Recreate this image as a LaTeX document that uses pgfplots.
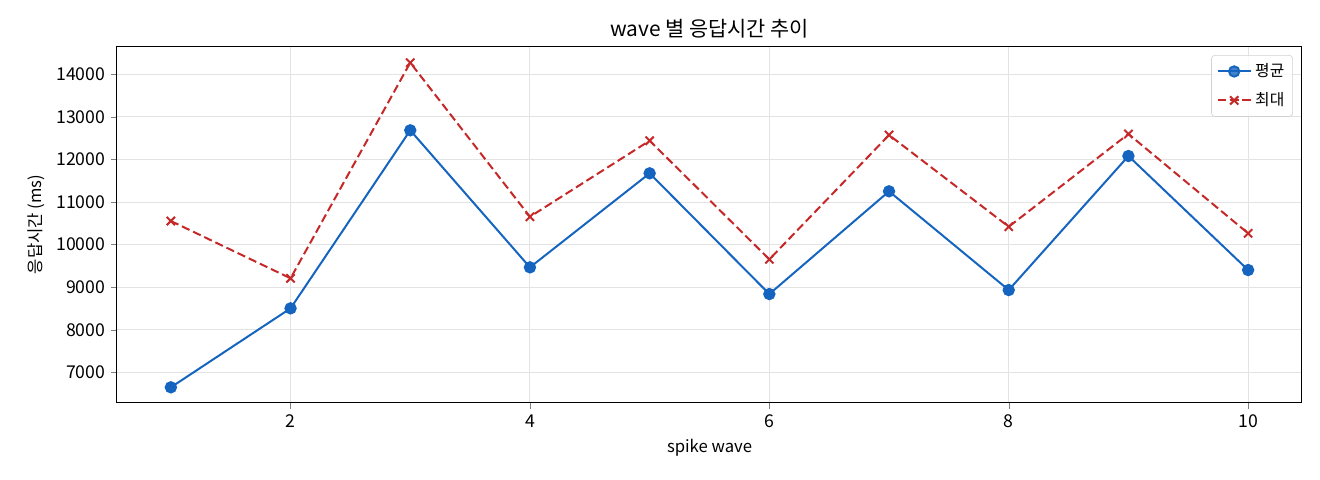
\documentclass[border=0pt]{standalone}
\usepackage{pgfplots}
\pgfplotsset{compat=1.18}
\usepackage{fontspec}
\setmainfont{Noto Sans CJK KR}
\definecolor{meanblue}{HTML}{1565C0}
\definecolor{maxred}{HTML}{C62828}
\begin{document}
\begin{tikzpicture}
\useasboundingbox (-70.2pt,-46.2pt) rectangle (721.8pt,241.8pt);
\begin{axis}[
  at={(0,0)}, anchor=south west,
  width=711pt, height=214.2pt, scale only axis,
  xmin=0.55, xmax=10.45,
  ymin=6280, ymax=14665,
  xtick={2,4,6,8,10},
  ytick={7000,8000,...,14000},
  scaled y ticks=false,
  /pgf/number format/assume math mode=true,
  /pgf/number format/1000 sep={},
  tick label style={font=\fontsize{10.6}{12}\selectfont},
  tick align=outside, tick pos=left,
  major tick length=3.5pt,
  grid=major,
  major grid style={gray!22, line width=0.6pt},
  axis line style={line width=0.6pt},
  title={wave 별 응답시간 추이},
  title style={font=\fontsize{12.5}{14}\selectfont, yshift=-5pt},
  xlabel={spike wave},
  ylabel={응답시간 (ms)},
  label style={font=\fontsize{10}{12}\selectfont},
  legend cell align=left,
  legend style={at={(1,1)}, anchor=north east, xshift=-5.4pt, yshift=-5.4pt,
    font=\fontsize{9.5}{11}\selectfont, draw=gray!35, rounded corners=2pt, fill=white, fill opacity=0.8, text opacity=1, row sep=4pt, inner sep=3pt},
  legend image code/.code={
    \draw[mark repeat=2,mark phase=2] plot coordinates {(0pt,0pt) (10pt,0pt) (20pt,0pt)};
  },
]
\addplot[color=meanblue, line width=1.2pt, mark=*, mark size=3.1pt] coordinates {
(1,6648) (2,8503) (3,12685) (4,9466) (5,11675) (6,8839) (7,11252) (8,8933) (9,12081) (10,9403)
};
\addlegendentry{평균}
\addplot[color=maxred, line width=1.2pt, dash pattern=on 5pt off 2.4pt, mark=x, mark size=3.5pt, mark options={solid}] coordinates {
(1,10554) (2,9208) (3,14273) (4,10655) (5,12441) (6,9654) (7,12574) (8,10420) (9,12598) (10,10265)
};
\addlegendentry{최대}
\end{axis}
\end{tikzpicture}
\end{document}
